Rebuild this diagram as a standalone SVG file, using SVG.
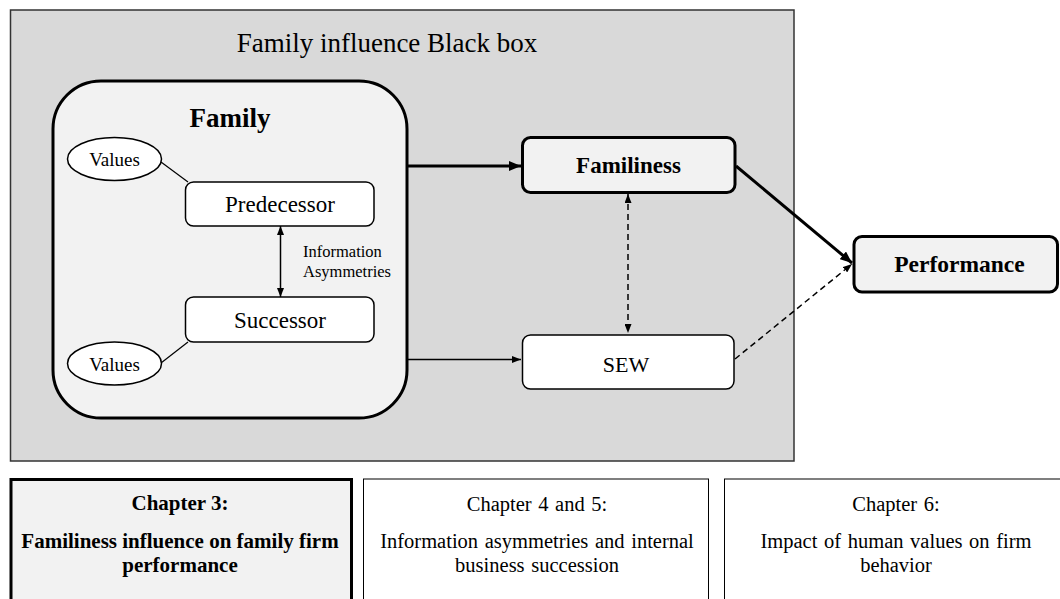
<svg xmlns="http://www.w3.org/2000/svg" width="1060" height="599" viewBox="0 0 1060 599">
  <style>
    text { font-family: "Liberation Serif", "Times New Roman", serif; fill: #000; text-anchor: middle; }
    .b { font-weight: bold; }
    .node { stroke: #000; }
    .thin { stroke-width: 1.5; fill: #fff; }
    .thick { stroke-width: 3; fill: #f2f2f2; }
    .con { fill: none; stroke: #000; }
    .ch { font-size: 20.5px; word-spacing: 1.5px; }
    .chb { font-size: 21px; font-weight: bold; }
  </style>
  <defs>
    <marker id="ah" viewBox="0 0 10 10" refX="10" refY="5" markerWidth="9" markerHeight="7" markerUnits="userSpaceOnUse" orient="auto-start-reverse" preserveAspectRatio="none">
      <path d="M0,0 L10,5 L0,10 z" fill="#000"/>
    </marker>
    <marker id="ahL" viewBox="0 0 10 10" refX="10" refY="5" markerWidth="12" markerHeight="10" markerUnits="userSpaceOnUse" orient="auto" preserveAspectRatio="none">
      <path d="M0,0 L10,5 L0,10 z" fill="#000"/>
    </marker>
  </defs>

  <rect width="1060" height="599" fill="#fff"/>

  <!-- outer container -->
  <g id="blackbox">
    <rect x="10.5" y="10" width="783.5" height="451" fill="#d9d9d9" stroke="#333" stroke-width="1.5"/>
    <text x="387" y="52" font-size="27">Family influence Black box</text>
  </g>

  <g id="family">
    <rect x="53" y="81" width="354" height="337" rx="48" ry="48" class="node" stroke-width="3" fill="#f2f2f2"/>
    <text x="230" y="127" font-size="27" class="b">Family</text>
  </g>

  <!-- connectors -->
  <g id="connectors">
    <line x1="161" y1="162" x2="188" y2="182" class="con" stroke-width="1.2"/>
    <line x1="161" y1="363" x2="188" y2="342" class="con" stroke-width="1.2"/>
    <line x1="280.5" y1="226" x2="280.5" y2="297" class="con" stroke-width="1.5" marker-start="url(#ah)" marker-end="url(#ah)"/>
    <line x1="408" y1="166" x2="521" y2="166" class="con" stroke-width="3" marker-end="url(#ahL)"/>
    <line x1="408" y1="359.5" x2="521" y2="359.5" class="con" stroke-width="1.5" marker-end="url(#ah)"/>
    <line x1="628" y1="194" x2="628" y2="333" class="con" stroke-width="1.5" stroke-dasharray="6,4" marker-start="url(#ah)" marker-end="url(#ah)"/>
    <line x1="736" y1="166" x2="852" y2="263" class="con" stroke-width="3" marker-end="url(#ahL)"/>
    <line x1="735" y1="359" x2="852" y2="264" class="con" stroke-width="1.5" stroke-dasharray="6,4" marker-end="url(#ah)"/>
  </g>

  <g id="values-top">
    <ellipse cx="114.5" cy="159" rx="47" ry="21.5" class="node thin"/>
    <text x="114.5" y="166" font-size="19">Values</text>
  </g>

  <g id="predecessor">
    <rect x="185.5" y="182" width="188.5" height="44" rx="8" class="node thin"/>
    <text x="280" y="212" font-size="23">Predecessor</text>
  </g>

  <g id="info-label">
    <text x="303" y="257" font-size="16.5" style="text-anchor:start">Information</text>
    <text x="303" y="277" font-size="16.5" style="text-anchor:start">Asymmetries</text>
  </g>

  <g id="successor">
    <rect x="185.5" y="297" width="188.5" height="45" rx="8" class="node thin"/>
    <text x="280" y="328" font-size="23">Successor</text>
  </g>

  <g id="values-bottom">
    <ellipse cx="114.5" cy="363.5" rx="47" ry="21.5" class="node thin"/>
    <text x="114.5" y="370.5" font-size="19">Values</text>
  </g>

  <g id="familiness">
    <rect x="522.5" y="137.5" width="212.5" height="55" rx="8" class="node thick"/>
    <text x="628.5" y="173" font-size="23" class="b">Familiness</text>
  </g>

  <g id="sew">
    <rect x="522.5" y="335" width="211.5" height="54" rx="8" class="node thin"/>
    <text x="626" y="372" font-size="22">SEW</text>
  </g>

  <g id="performance">
    <rect x="854" y="236.5" width="203.5" height="55.5" rx="8" class="node thick"/>
    <text x="959.5" y="272" font-size="23.5" class="b">Performance</text>
  </g>

  <g id="chapter3">
    <rect x="11" y="479.5" width="340.5" height="130" class="node" stroke-width="3" fill="#f2f2f2"/>
    <text x="180" y="510" class="chb">Chapter 3:</text>
    <text x="180" y="548" class="chb">Familiness influence on family firm</text>
    <text x="180" y="572" class="chb">performance</text>
  </g>

  <g id="chapter4-5">
    <rect x="363.5" y="479" width="345" height="130" class="node" stroke-width="1" fill="#fff"/>
    <text x="537" y="511" class="ch">Chapter 4 and 5:</text>
    <text x="537" y="548" class="ch">Information asymmetries and internal</text>
    <text x="537" y="572" class="ch">business succession</text>
  </g>

  <g id="chapter6">
    <rect x="724.5" y="479" width="345" height="130" class="node" stroke-width="1" fill="#fff"/>
    <text x="896" y="511" class="ch">Chapter 6:</text>
    <text x="896" y="548" class="ch">Impact of human values on firm</text>
    <text x="896" y="572" class="ch">behavior</text>
  </g>
</svg>
